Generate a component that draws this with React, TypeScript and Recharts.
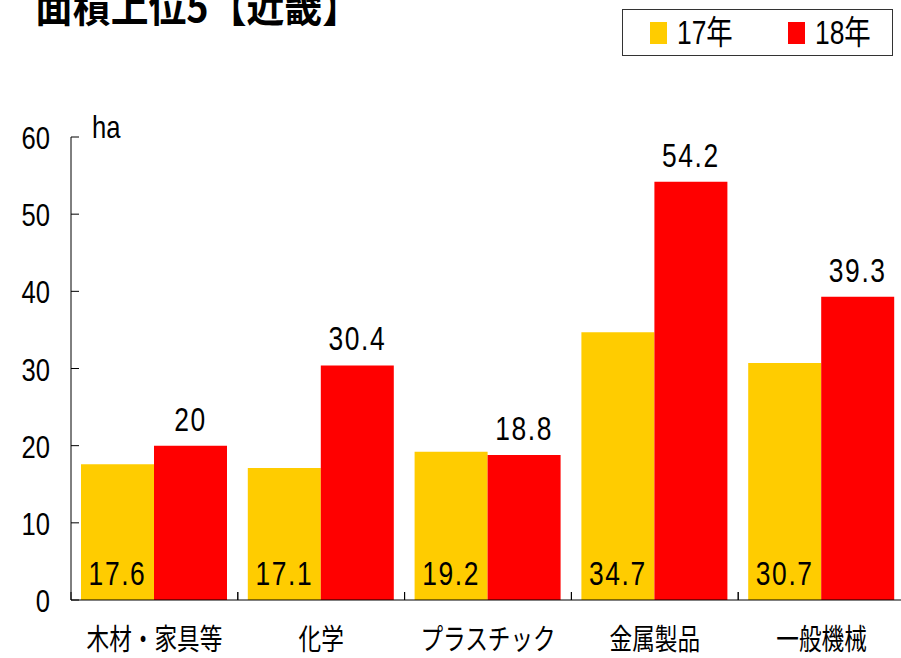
import {Bar, BarChart, LabelList, Legend, XAxis, YAxis} from "recharts";

const categories = ["木材・家具等", "化学", "プラスチック", "金属製品", "一般機械"];
const area17 = [17.6, 17.1, 19.2, 34.7, 30.7];
const area18 = [20, 30.4, 18.8, 54.2, 39.3];
const yTicks = [0, 10, 20, 30, 40, 50, 60];
const seriesNames = ["17年", "18年"];
const title = "面積上位5【近畿】";
const unit = "ha";

const data = categories.map((name, i) => ({name, y17: area17[i], y18: area18[i]}));

const NUM_FONT = "'Liberation Sans', Arial, sans-serif";
const JP_FONT = "'Noto Sans CJK JP', sans-serif";
const SQUEEZE = 0.8;
const CHART_W = 905;
const CHART_H = 658;
const AXIS_X = 71;
const PLOT_BOTTOM = 600;
const BAND = (CHART_W - AXIS_X) / categories.length;

// narrow text: regular font squeezed horizontally around its anchor
const narrow = (x: number, y: number, content: any, size: number, anchor: string, spacing = 0) => (
  <g transform={`translate(${x},${y}) scale(${SQUEEZE},1)`}>
    <text textAnchor={anchor} fontFamily={NUM_FONT} fontSize={size} letterSpacing={spacing} fill="#000">
      {content}
    </text>
  </g>
);

function YTick({y, payload}: any) {
  return (
    <g>
      <line x1={AXIS_X} x2={AXIS_X + 8} y1={y} y2={y} stroke="#000" />
      {narrow(50, y + 12, payload.value, 32, "end")}
    </g>
  );
}

function XTick({x, payload}: any) {
  return (
    <g>
      <line x1={x - BAND / 2} x2={x - BAND / 2} y1={PLOT_BOTTOM} y2={PLOT_BOTTOM - 8} stroke="#000" />
      <line x1={x + BAND / 2} x2={x + BAND / 2} y1={PLOT_BOTTOM} y2={PLOT_BOTTOM - 8} stroke="#000" />
      <g transform={`translate(${x},650) scale(0.78,1)`}>
        <text textAnchor="middle" fontFamily={JP_FONT} fontSize={29} fill="#000">
          {payload.value}
        </text>
      </g>
    </g>
  );
}

const insideLabel = (p: any) => narrow(p.x + p.width / 2, p.y + p.height - 15, p.value, 33, "middle", 2);
const topLabel = (p: any) => narrow(p.x + p.width / 2, p.y - 15, p.value, 33, "middle", 2);

function LegendBox({payload}: any) {
  const items = payload || [];
  return (
    <div style={{position: "relative", width: 269, height: 45, border: "1px solid #333", background: "#fff"}}>
      {items.map((it: any, i: number) => (
        <div key={it.value} style={{position: "absolute", left: 27 + i * 138, top: 0, height: 45, display: "flex", alignItems: "center"}}>
          <span style={{display: "inline-block", width: 17, height: 22, background: it.color, marginRight: 10}} />
          <span
            style={{
              fontFamily: "'Liberation Sans', 'Noto Sans CJK JP', sans-serif",
              fontSize: 33,
              color: "#000",
              lineHeight: "45px",
              display: "inline-block",
              transform: `scaleX(${SQUEEZE})`,
              transformOrigin: "left center",
            }}
          >
            {it.value}
          </span>
        </div>
      ))}
    </div>
  );
}

export default function App() {
  return (
    <div style={{position: "absolute", left: 0, top: 0, width: 901, height: 658, overflow: "hidden", background: "#fff"}}>
      <svg width={400} height={40} style={{position: "absolute", left: 0, top: 0}}>
        <text x={35} y={22} fontFamily={JP_FONT} fontWeight="bold" fontSize={42} textLength={325} lengthAdjust="spacingAndGlyphs" fill="#000">
          {title}
        </text>
      </svg>
      <BarChart width={CHART_W} height={CHART_H} data={data} margin={{top: 137, right: 0, bottom: 0, left: 8}} barCategoryGap={10} barGap={0}>
        <XAxis dataKey="name" height={58} axisLine={{stroke: "#000"}} tickLine={false} tick={<XTick />} interval={0} />
        <YAxis
          domain={[0, 60]}
          ticks={yTicks}
          width={63}
          axisLine={{stroke: "#000"}}
          tickLine={false}
          tick={<YTick />}
          interval={0}
          label={{content: () => narrow(AXIS_X + 21, 138, unit, 32, "start")}}
        />
        <Legend
          verticalAlign="middle"
          align="center"
          layout="horizontal"
          wrapperStyle={{position: "absolute", top: 9, left: 622, width: 271, height: 47}}
          content={<LegendBox />}
        />
        <Bar dataKey="y17" name={seriesNames[0]} fill="#FFCC00" isAnimationActive={false}>
          <LabelList dataKey="y17" content={insideLabel} />
        </Bar>
        <Bar dataKey="y18" name={seriesNames[1]} fill="#FF0000" isAnimationActive={false}>
          <LabelList dataKey="y18" content={topLabel} />
        </Bar>
      </BarChart>
    </div>
  );
}
